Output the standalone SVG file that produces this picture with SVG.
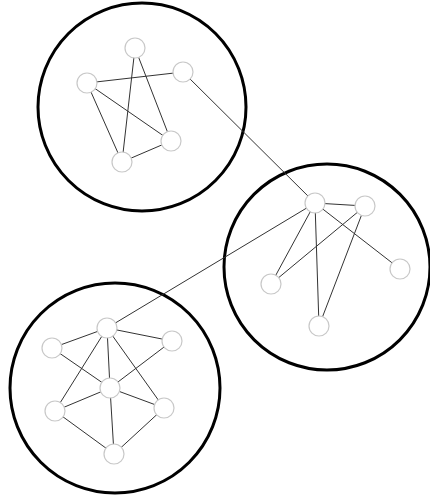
<svg xmlns="http://www.w3.org/2000/svg" width="430" height="498" viewBox="0 0 430 498">
<style>
.cluster{fill:none;stroke:#000;stroke-width:3}
.edge{stroke:#333;stroke-width:1;fill:none}
.node{fill:#fff;stroke:#c8c8c8;stroke-width:1.2}
</style>
<rect width="430" height="498" fill="#fff"/>
<g id="clusters">
<circle class="cluster" cx="142" cy="107" r="104"/>
<circle class="cluster" cx="327" cy="267" r="103"/>
<circle class="cluster" cx="115" cy="388" r="105"/>
</g>
<g id="connectors">
<line class="edge" x1="87" y1="83" x2="183" y2="72"/>
<line class="edge" x1="135" y1="48" x2="122" y2="162"/>
<line class="edge" x1="135" y1="48" x2="171" y2="141"/>
<line class="edge" x1="87" y1="83" x2="171" y2="141"/>
<line class="edge" x1="87" y1="83" x2="122" y2="162"/>
<line class="edge" x1="122" y1="162" x2="171" y2="141"/>
<line class="edge" x1="183" y1="72" x2="315" y2="203"/>
<line class="edge" x1="315" y1="203" x2="365" y2="206"/>
<line class="edge" x1="315" y1="203" x2="400" y2="269"/>
<line class="edge" x1="315" y1="203" x2="271" y2="284"/>
<line class="edge" x1="315" y1="203" x2="319" y2="326"/>
<line class="edge" x1="365" y1="206" x2="271" y2="284"/>
<line class="edge" x1="365" y1="206" x2="319" y2="326"/>
<line class="edge" x1="315" y1="203" x2="107" y2="328"/>
<line class="edge" x1="107" y1="328" x2="52" y2="348"/>
<line class="edge" x1="107" y1="328" x2="172" y2="341"/>
<line class="edge" x1="107" y1="328" x2="110" y2="388"/>
<line class="edge" x1="107" y1="328" x2="55" y2="411"/>
<line class="edge" x1="107" y1="328" x2="164" y2="408"/>
<line class="edge" x1="52" y1="348" x2="110" y2="388"/>
<line class="edge" x1="172" y1="341" x2="110" y2="388"/>
<line class="edge" x1="110" y1="388" x2="55" y2="411"/>
<line class="edge" x1="110" y1="388" x2="164" y2="408"/>
<line class="edge" x1="110" y1="388" x2="114" y2="454"/>
<line class="edge" x1="55" y1="411" x2="114" y2="454"/>
<line class="edge" x1="164" y1="408" x2="114" y2="454"/>
</g>
<g id="n1a"><circle class="node" cx="135" cy="48" r="10"/></g>
<g id="n1b"><circle class="node" cx="87" cy="83" r="10"/></g>
<g id="n1c"><circle class="node" cx="183" cy="72" r="10"/></g>
<g id="n1d"><circle class="node" cx="171" cy="141" r="10"/></g>
<g id="n1e"><circle class="node" cx="122" cy="162" r="10"/></g>
<g id="n2a"><circle class="node" cx="315" cy="203" r="10"/></g>
<g id="n2b"><circle class="node" cx="365" cy="206" r="10"/></g>
<g id="n2c"><circle class="node" cx="400" cy="269" r="10"/></g>
<g id="n2d"><circle class="node" cx="271" cy="284" r="10"/></g>
<g id="n2e"><circle class="node" cx="319" cy="326" r="10"/></g>
<g id="n3a"><circle class="node" cx="107" cy="328" r="10"/></g>
<g id="n3b"><circle class="node" cx="52" cy="348" r="10"/></g>
<g id="n3c"><circle class="node" cx="172" cy="341" r="10"/></g>
<g id="n3d"><circle class="node" cx="110" cy="388" r="10"/></g>
<g id="n3e"><circle class="node" cx="55" cy="411" r="10"/></g>
<g id="n3f"><circle class="node" cx="164" cy="408" r="10"/></g>
<g id="n3g"><circle class="node" cx="114" cy="454" r="10"/></g>
</svg>
